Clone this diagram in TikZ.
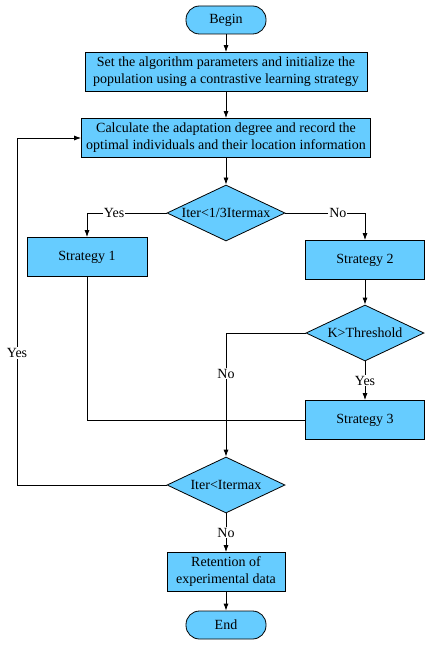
\documentclass[tikz,border=0pt]{standalone}
\usepackage{fontspec}
\setmainfont{Liberation Serif}
\usetikzlibrary{shapes.geometric,arrows.meta}
\definecolor{boxblue}{RGB}{102,204,255}
\tikzset{
  startstop/.style={draw,fill=boxblue,rounded corners=13.5pt,minimum width=80pt,minimum height=28pt},
  process/.style={draw,fill=boxblue,align=center,minimum height=39pt,inner sep=2pt},
  decision/.style={draw,fill=boxblue,diamond,aspect=2.1,inner sep=0pt,minimum width=118pt,minimum height=56pt},
  lbl/.style={fill=white,inner sep=1pt}
}

\begin{document}
\begin{tikzpicture}[x=1pt,y=-1pt,>={Latex[length=7pt,width=5pt]},line width=0.8pt,font=\fontsize{14}{17}\selectfont]
  \useasboundingbox (0,0) rectangle (429,647);
  % main column
  \node[startstop] (start) at (226,20) {Begin};
  \node[process,minimum width=282pt] (init) at (226,72) {Set the algorithm parameters and initialize the\\population using a contrastive learning strategy};
  \node[process,minimum width=289pt] (calc) at (226,138) {Calculate the adaptation degree and record the\\optimal individuals and their location information};
  \node[decision] (d1) at (226,213) {Iter<1/3Itermax};
  % strategies
  \node[process,minimum width=120pt] (s1) at (87,257) {Strategy 1};
  \node[process,minimum width=119pt] (s2) at (365,260) {Strategy 2};
  \node[decision] (k) at (365,333) {K>Threshold};
  \node[process,minimum width=119pt] (s3) at (365,420) {Strategy 3};
  % end of loop
  \node[decision] (d3) at (226,485) {Iter<Itermax};
  \node[process,minimum width=118pt] (ret) at (226,572) {Retention of\\experimental data};
  \node[startstop] (stop) at (226,625) {End};
  \coordinate (loop) at (17,485);

  \draw[->] (start) -- (init);
  \draw[->] (init) -- (calc);
  \draw[->] (calc) -- (d1);
  \draw[->] (d1.west) -| node[lbl,pos=0.33]{Yes} (s1.north);
  \draw[->] (d1.east) -| node[lbl,pos=0.33]{No} (s2.north);
  \draw[->] (s2) -- (k);
  \draw[->] (k) -- node[lbl]{Yes} (s3);
  \draw (s1.south) |- (s3.west);
  \draw[->] (k.west) -| node[lbl,pos=0.665]{No} (d3.north);
  \draw[->] (d3.west) -- (loop) |- node[lbl,pos=0.19]{Yes} (calc.west);
  \draw[->] (d3) -- node[lbl]{No} (ret);
  \draw[->] (ret) -- (stop);
\end{tikzpicture}
\end{document}
